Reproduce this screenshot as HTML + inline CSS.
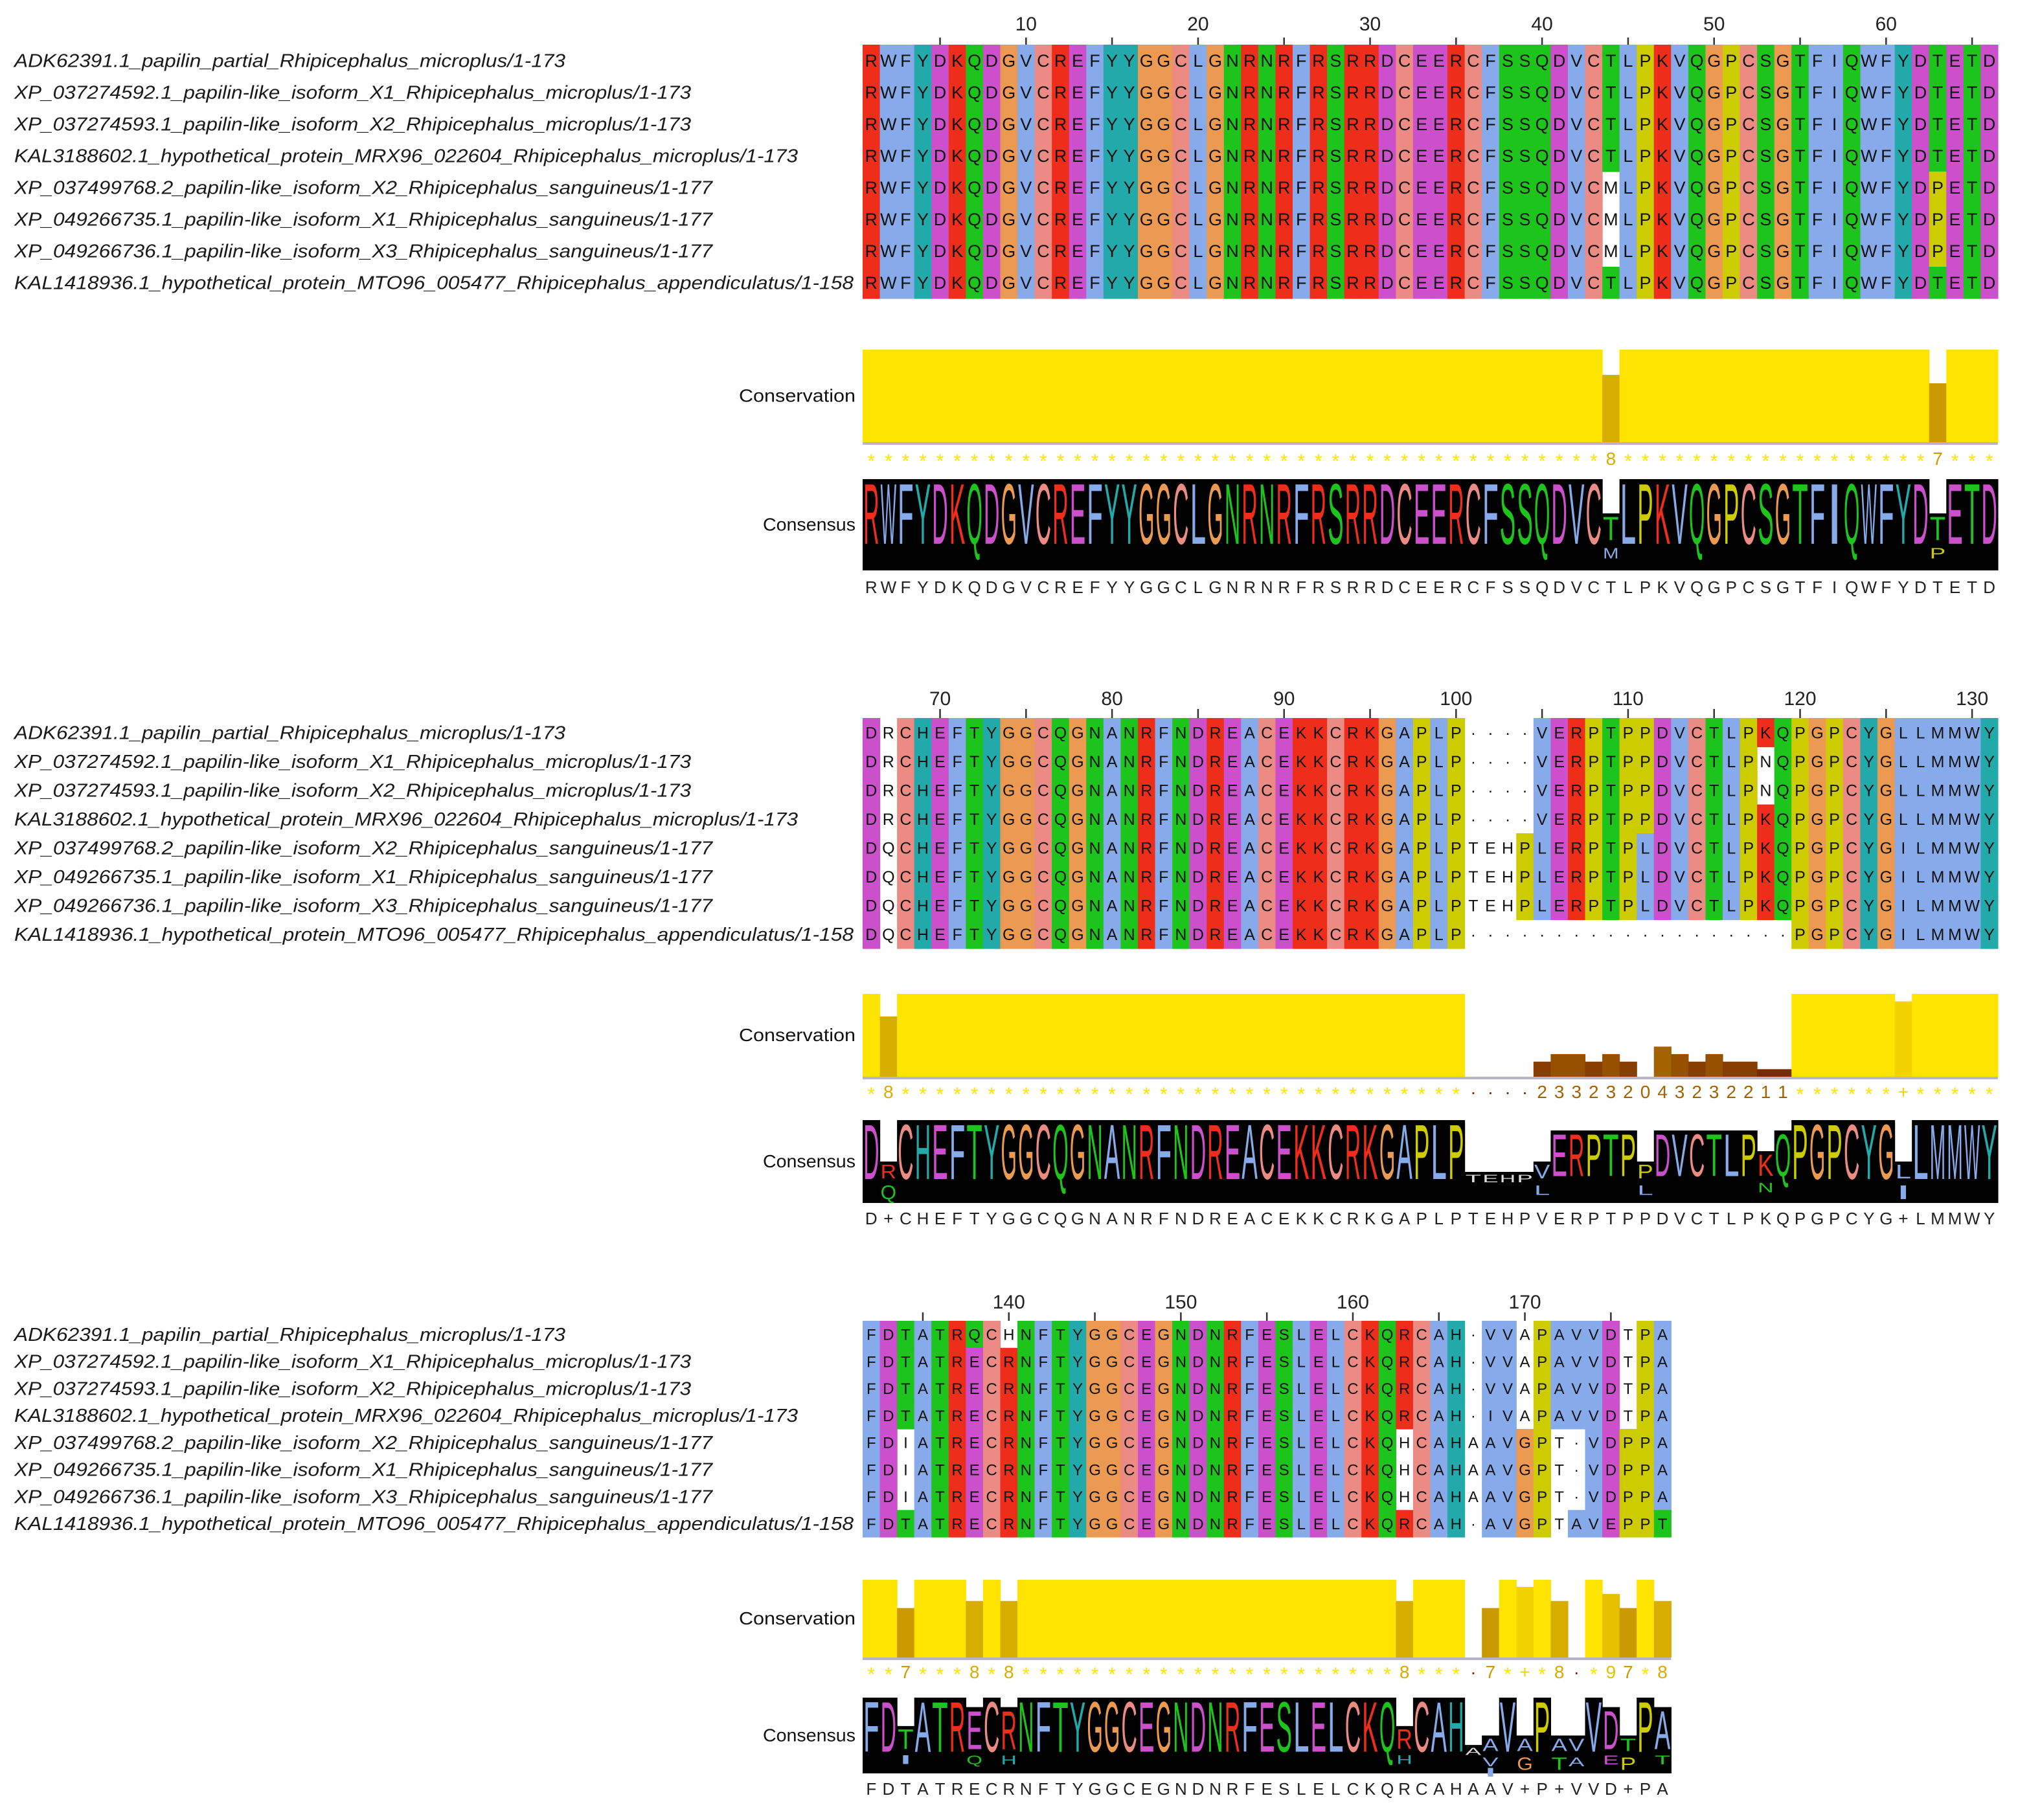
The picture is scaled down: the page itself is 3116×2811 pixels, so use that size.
<!DOCTYPE html>
<html><head><meta charset="utf-8">
<style>
html,body{margin:0;padding:0;background:#fff;}
svg{display:block;}
</style></head>
<body>
<svg id="fig" xmlns="http://www.w3.org/2000/svg" width="3116" height="2811" viewBox="0 0 3116 2811"></svg>
<script>
// ---------- data ----------
const seqNames = [
"ADK62391.1_papilin_partial_Rhipicephalus_microplus/1-173",
"XP_037274592.1_papilin-like_isoform_X1_Rhipicephalus_microplus/1-173",
"XP_037274593.1_papilin-like_isoform_X2_Rhipicephalus_microplus/1-173",
"KAL3188602.1_hypothetical_protein_MRX96_022604_Rhipicephalus_microplus/1-173",
"XP_037499768.2_papilin-like_isoform_X2_Rhipicephalus_sanguineus/1-177",
"XP_049266735.1_papilin-like_isoform_X1_Rhipicephalus_sanguineus/1-177",
"XP_049266736.1_papilin-like_isoform_X3_Rhipicephalus_sanguineus/1-177",
"KAL1418936.1_hypothetical_protein_MTO96_005477_Rhipicephalus_appendiculatus/1-158"];
const nameWidths = [851,1045,1045,1210,1078,1078,1078,1296];

const seqs1 = [
"RWFYDKQDGVCREFYYGGCLGNRNRFRSRRDCEERCFSSQDVCTLPKVQGPCSGTFIQWFYDTETD",
"RWFYDKQDGVCREFYYGGCLGNRNRFRSRRDCEERCFSSQDVCTLPKVQGPCSGTFIQWFYDTETD",
"RWFYDKQDGVCREFYYGGCLGNRNRFRSRRDCEERCFSSQDVCTLPKVQGPCSGTFIQWFYDTETD",
"RWFYDKQDGVCREFYYGGCLGNRNRFRSRRDCEERCFSSQDVCTLPKVQGPCSGTFIQWFYDTETD",
"RWFYDKQDGVCREFYYGGCLGNRNRFRSRRDCEERCFSSQDVCMLPKVQGPCSGTFIQWFYDPETD",
"RWFYDKQDGVCREFYYGGCLGNRNRFRSRRDCEERCFSSQDVCMLPKVQGPCSGTFIQWFYDPETD",
"RWFYDKQDGVCREFYYGGCLGNRNRFRSRRDCEERCFSSQDVCMLPKVQGPCSGTFIQWFYDPETD",
"RWFYDKQDGVCREFYYGGCLGNRNRFRSRRDCEERCFSSQDVCTLPKVQGPCSGTFIQWFYDTETD"];
const seqs2 = [
"DRCHEFTYGGCQGNANRFNDREACEKKCRKGAPLP----VERPTPPDVCTLPKQPGPCYGLLMMWY",
"DRCHEFTYGGCQGNANRFNDREACEKKCRKGAPLP----VERPTPPDVCTLPNQPGPCYGLLMMWY",
"DRCHEFTYGGCQGNANRFNDREACEKKCRKGAPLP----VERPTPPDVCTLPNQPGPCYGLLMMWY",
"DRCHEFTYGGCQGNANRFNDREACEKKCRKGAPLP----VERPTPPDVCTLPKQPGPCYGLLMMWY",
"DQCHEFTYGGCQGNANRFNDREACEKKCRKGAPLPTEHPLERPTPLDVCTLPKQPGPCYGILMMWY",
"DQCHEFTYGGCQGNANRFNDREACEKKCRKGAPLPTEHPLERPTPLDVCTLPKQPGPCYGILMMWY",
"DQCHEFTYGGCQGNANRFNDREACEKKCRKGAPLPTEHPLERPTPLDVCTLPKQPGPCYGILMMWY",
"DQCHEFTYGGCQGNANRFNDREACEKKCRKGAPLP-------------------PGPCYGILMMWY"];
const seqs3 = [
"FDTATRQCHNFTYGGCEGNDNRFESLELCKQRCAH-VVAPAVVDTPA",
"FDTATRECRNFTYGGCEGNDNRFESLELCKQRCAH-VVAPAVVDTPA",
"FDTATRECRNFTYGGCEGNDNRFESLELCKQRCAH-VVAPAVVDTPA",
"FDTATRECRNFTYGGCEGNDNRFESLELCKQRCAH-IVAPAVVDTPA",
"FDIATRECRNFTYGGCEGNDNRFESLELCKQHCAHAAVGPT-VDPPA",
"FDIATRECRNFTYGGCEGNDNRFESLELCKQHCAHAAVGPT-VDPPA",
"FDIATRECRNFTYGGCEGNDNRFESLELCKQHCAHAAVGPT-VDPPA",
"FDTATRECRNFTYGGCEGNDNRFESLELCKQRCAH-AVGPTAVEPPT"];

// conservation scores (11 = '*', 10 = '+', -1 = gap '.')
const cons1 = [11,11,11,11,11,11,11,11,11,11,11,11,11,11,11,11,11,11,11,11,11,11,11,11,11,11,11,11,11,11,11,11,11,11,11,11,11,11,11,11,11,11,11,8,11,11,11,11,11,11,11,11,11,11,11,11,11,11,11,11,11,11,7,11,11,11];
const cons2 = [11,8,11,11,11,11,11,11,11,11,11,11,11,11,11,11,11,11,11,11,11,11,11,11,11,11,11,11,11,11,11,11,11,11,11,-1,-1,-1,-1,2,3,3,2,3,2,0,4,3,2,3,2,2,1,1,11,11,11,11,11,11,10,11,11,11,11,11];
const cons3 = [11,11,7,11,11,11,8,11,8,11,11,11,11,11,11,11,11,11,11,11,11,11,11,11,11,11,11,11,11,11,11,8,11,11,11,-1,7,11,10,11,8,-1,11,9,7,11,8];

// position ruler labels
const ticks1 = [10,20,30,40,50,60];
const ticks2 = [70,80,90,100,110,120,130];
const ticks3 = [140,150,160,170];
const blockStarts = [1,66,132];

// unconserved (white) cells: [column index within block (1-based), row (1-based)]
const white1 = [[44,5],[44,6],[44,7]];
const white2 = [[2,1],[2,2],[2,3],[2,4],[2,5],[2,6],[2,7],[2,8],[36,5],[37,5],[38,5],[36,6],[37,6],[38,6],[36,7],[37,7],[38,7],[53,2],[53,3]];
const white3 = [[3,5],[3,6],[3,7],[9,1],[32,5],[32,6],[32,7],[36,5],[36,6],[36,7],[39,1],[39,2],[39,3],[39,4],[41,5],[41,6],[41,7],[41,8],[45,1],[45,2],[45,3],[45,4]];

// ---------- layout (not data) ----------
const X0 = 1332, CW = 26.56;
const layout = [
 {tickY:37, tickTop:58, rowTop:69, rowH:49, consTop:540, consBot:683, consLab:708, logoTop:740, logoBot:881, textY:906, fs:27},
 {tickY:1079, tickTop:1095, rowTop:1109, rowH:44.5, consTop:1535, consBot:1663, consLab:1686, logoTop:1730, logoBot:1858, textY:1881, fs:25},
 {tickY:2011, tickTop:2027, rowTop:2040, rowH:41.75, consTop:2440, consBot:2560, consLab:2582, logoTop:2622, logoBot:2739, textY:2762, fs:24}
];

const COL = {A:'#86aaea',I:'#86aaea',L:'#86aaea',M:'#86aaea',F:'#86aaea',W:'#86aaea',V:'#86aaea',
 K:'#ee2d1a',R:'#ee2d1a',D:'#cc4fcc',E:'#cc4fcc',N:'#1cc41c',Q:'#1cc41c',S:'#1cc41c',T:'#1cc41c',
 C:'#ec8a84',G:'#ec9a52',P:'#cccc00',H:'#22aaaa',Y:'#22aaaa'};

const NS='http://www.w3.org/2000/svg';
const svg=document.getElementById('fig');
function mk(tag,attrs,parent){const e=document.createElementNS(NS,tag);for(const k in attrs)e.setAttribute(k,attrs[k]);(parent||svg).appendChild(e);return e;}
function colX(i){return X0+i*CW;}
function consColor(v){const t=Math.max(0,Math.min(1,v/11));
 const r=Math.round(110+(255-110)*t),g=Math.round(25+(228-25)*t);return 'rgb('+r+','+g+',0)';}

const blocks=[[seqs1,cons1,ticks1,white1],[seqs2,cons2,ticks2,white2],[seqs3,cons3,ticks3,white3]];

blocks.forEach((b,bi)=>{
 const [seqs,cons,ticks,white]=b; const L=layout[bi]; const n=seqs[0].length; const start=blockStarts[bi];
 const g=mk('g',{});
 
 
 for(let i=0;i<n;i++){const num=start+i;
  if(num%5===0){const t=mk('line',{x1:colX(i)+CW/2,x2:colX(i)+CW/2,y1:L.tickTop,y2:L.rowTop,stroke:'#333','stroke-width':2.5},g);
   
   }
 }
 ticks.forEach(v=>{const i=v-start;
  const t=mk('text',{x:colX(i)+CW/2,y:L.tickY+10,'text-anchor':'middle','font-family':'Liberation Sans, sans-serif','font-size':30,fill:'#222'},g);
  t.textContent=v;
  
  });
 const wset=new Set(white.map(w=>w[0]+'_'+w[1]));
 seqs.forEach((s,r)=>{
  const y=L.rowTop+r*L.rowH, cy=y+L.rowH/2;
  const nm=mk('text',{x:22,y:cy+10,'font-family':'Liberation Sans, sans-serif','font-style':'italic','font-size':29,fill:'#1a1a1a',textLength:nameWidths[r],lengthAdjust:'spacingAndGlyphs'},g);
  nm.textContent=seqNames[r];
  
  
  for(let i=0;i<n;i++){const c=s[i];
   const isWhite=c==='-'||wset.has((i+1)+'_'+(r+1));
   if(!isWhite){const rc=mk('rect',{x:colX(i),y:y,width:CW+0.6,height:L.rowH+0.6,fill:COL[c]||'#fff'},g);
    
    }
   const t=mk('text',{x:colX(i)+CW/2,y:cy+L.fs*0.36,'text-anchor':'middle','font-family':'Liberation Sans, sans-serif','font-size':L.fs,fill:'#111'},g);
   t.textContent=c==='-'?'·':c;
   
   
  }
 });
 const cl=mk('text',{x:1321,y:(L.consTop+L.consBot)/2+9,'text-anchor':'end','font-family':'Liberation Sans, sans-serif','font-size':28,fill:'#111',textLength:180,lengthAdjust:'spacingAndGlyphs'},g);
 cl.textContent='Conservation';
 
 
 const H=L.consBot-L.consTop;
 cons.forEach((v,i)=>{
  if(v>0){const h=H*v/11;
   const br=mk('rect',{x:colX(i),y:L.consBot-h,width:CW+0.6,height:h,fill:consColor(v)},g);
   
   }
  const lab=v===11?'*':v===10?'+':v<0?'·':String(v);
  const t=mk('text',{x:colX(i)+CW/2,y:L.consLab+(v===11?14:10),'text-anchor':'middle','font-family':'Liberation Sans, sans-serif','font-size':v===11?30:28,fill:v<0?'#7a2a10':consColor(Math.max(v,4))},g);
  t.textContent=lab;
  
  
 });
 const bl=mk('line',{x1:colX(0),x2:colX(n),y1:L.consBot+2,y2:L.consBot+2,stroke:'#b8b4c8','stroke-width':4},g);
 
 
 const ql=mk('text',{x:1321,y:(L.logoTop+L.logoBot)/2+9,'text-anchor':'end','font-family':'Liberation Sans, sans-serif','font-size':28,fill:'#111',textLength:143,lengthAdjust:'spacingAndGlyphs'},g);
 ql.textContent='Consensus';
 
 
 const LH=L.logoBot-L.logoTop;
 let consText='';
 for(let i=0;i<n;i++){
  const cnt={};seqs.forEach(s=>{const c=s[i];if(c!=='-')cnt[c]=(cnt[c]||0)+1;});
  const ord=Object.keys(cnt).sort((a,b)=>cnt[b]-cnt[a]);
  if(!ord.length){consText+='-';continue;}
  const f=cnt[ord[0]]/seqs.length;
  consText+=(ord.length>1&&cnt[ord[0]]===cnt[ord[1]])?'+':ord[0];
  const top=L.logoTop+(1-f)*LH;
  const bx=mk('rect',{x:colX(i),y:top,width:CW+0.6,height:L.logoBot-top,fill:'#000'},g);
  
  
  let yc=top+4;
  ord.forEach((c,k)=>{
   const fr=cnt[c]/seqs.length;
   let h=fr*fr*0.68*LH; if(k>0)h=Math.max(h,0.12*LH);
   const sy=h/(0.72*30);
   const t=mk('text',{'font-family':'Liberation Sans, sans-serif','font-size':30,fill:f<0.5&&k===0?'#ddd':(COL[c]||'#fff'),'text-anchor':'middle',
     transform:'translate('+(colX(i)+CW/2)+','+(yc+h)+') scale(1,'+sy.toFixed(3)+')',textLength:CW*0.92,lengthAdjust:'spacingAndGlyphs'},g);
   t.textContent=c;
   
   
   yc+=h+(k===0?0.08*LH:2);
  });
 }
 for(let i=0;i<n;i++){
  const t=mk('text',{x:colX(i)+CW/2,y:L.textY+10,'text-anchor':'middle','font-family':'Liberation Sans, sans-serif','font-size':26,fill:'#222'},g);
  t.textContent=consText[i];
  
  
 }
});
</script>
</body></html>
